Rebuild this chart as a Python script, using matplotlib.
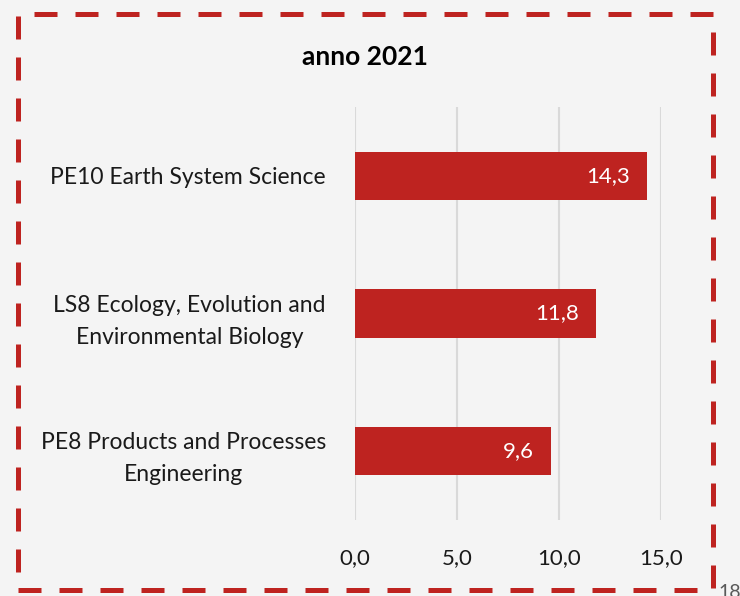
import matplotlib.pyplot as plt
from matplotlib.patches import Rectangle
from matplotlib.ticker import FuncFormatter

# data
categories = [
    "PE10 Earth System Science",
    "LS8 Ecology, Evolution and\nEnvironmental Biology",
    "PE8 Products and Processes\nEngineering",
]
values = [14.3, 11.8, 9.6]
x_ticks = [0, 5, 10, 15]
title = "anno 2021"
page_number = "18"

RED = "#BE2320"
BG = "#F4F4F4"
GRID = "#D9D9D9"
FONT = ["Lato", "DejaVu Sans"]


def comma(v, _=None):
    return f"{v:.1f}".replace(".", ",")


def main() -> None:
    plt.rcParams["font.family"] = FONT

    fig = plt.figure(figsize=(7.4, 5.96), dpi=100)
    fig.patch.set_facecolor(BG)
    ax = fig.add_axes([355 / 740, 1 - 520 / 596, 306 / 740, 413 / 596])
    ax.set_facecolor(BG)

    pos = list(range(len(categories)))
    bars = ax.barh(pos, values, height=0.35, color=RED, zorder=3)
    ax.set_ylim(len(categories) - 0.5, -0.5)
    ax.set_xlim(0, 15)

    ax.set_yticks(pos)
    ax.set_yticklabels(categories, fontsize=16.5, color="#1a1a1a")
    for t in ax.get_yticklabels():
        t.set_multialignment("center")
        t.set_linespacing(1.65)
    ax.tick_params(axis="y", length=0, pad=21)

    ax.set_xticks(x_ticks)
    ax.xaxis.set_major_formatter(FuncFormatter(comma))
    ax.tick_params(axis="x", length=0, pad=20, labelsize=16, labelcolor="#1a1a1a")
    ax.grid(axis="x", color=GRID, linewidth=1.5, zorder=0)
    for lbl in ax.get_xticklabels():
        lbl.set_clip_on(False)
    for spine in ax.spines.values():
        spine.set_visible(False)

    for bar, v in zip(bars, values):
        ax.annotate(comma(v), (bar.get_width(), bar.get_y() + bar.get_height() / 2),
                    xytext=(-12, 0), textcoords="offset points",
                    ha="right", va="center", color="white", fontsize=16, zorder=4)

    fig.text(365 / 740, 1 - 57 / 596, title, ha="center", va="center",
             fontsize=19, fontweight="bold", color="black")

    # dashed frame round the chart
    x0, x1 = 18 / 740, 713 / 740
    y0, y1 = 1 - 589.5 / 596, 1 - 14 / 596
    frame = Rectangle((x0, y0), x1 - x0, y1 - y0, transform=fig.transFigure,
                      fill=False, edgecolor=RED, linewidth=3.6,
                      linestyle=(0, (4.6, 3.6)), clip_on=False)
    fig.patches.append(frame)

    fig.text(718 / 740, -0.004, page_number, ha="left", va="baseline",
             fontsize=14, color="#595959")

    fig.savefig("out.png", dpi=100, facecolor=BG)


if __name__ == "__main__":
    main()
